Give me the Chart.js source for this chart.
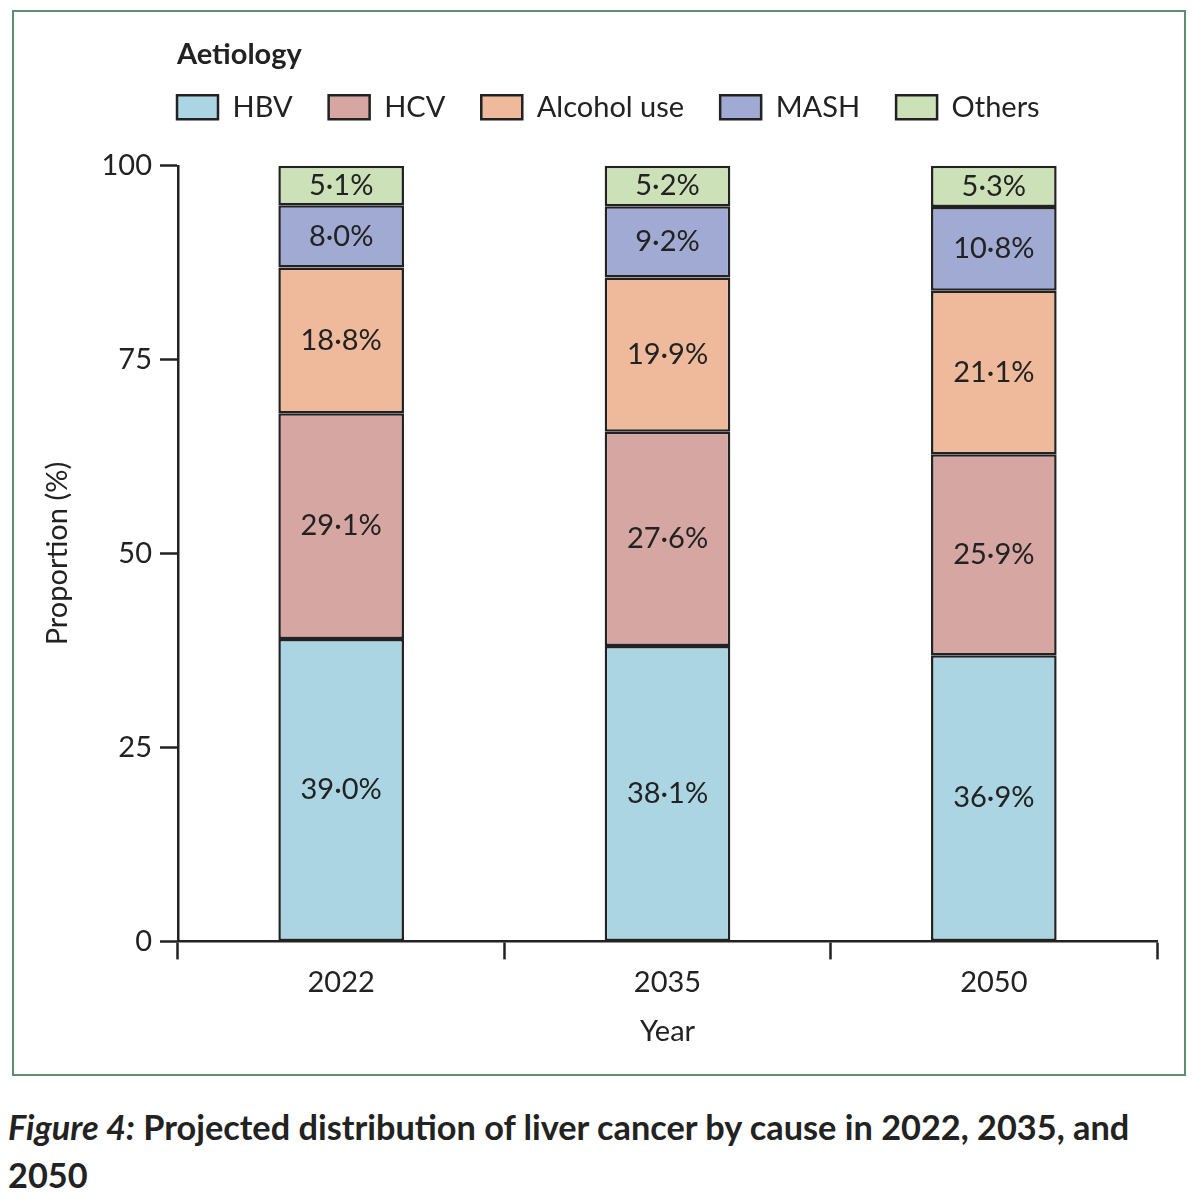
<!DOCTYPE html>
<html>
<head>
<meta charset="utf-8">
<script src="https://cdn.jsdelivr.net/npm/chart.js@4/dist/chart.umd.min.js"></script>
<style>
    body { margin: 0; background: #fff; font-family: Lato, sans-serif; color: #222; }
    #frame { position: absolute; left: 12px; top: 10px; width: 1170px; height: 1062px; border: 2px solid #5a8f6f; }
    #caption { position: absolute; left: 8px; top: 1103px; font-size: 34.3px; font-weight: bold; line-height: 48px; white-space: nowrap; color: #222; }
</style>
</head>
<body>
<div id="frame"><canvas id="liverGraph" width="1170" height="1062"></canvas></div>
<div id="caption"><i>Figure 4:</i> Projected distribution of liver cancer by cause in 2022, 2035, and<br>2050</div>
<script>
const years = ['2022', '2035', '2050'];
const causes = ['HBV', 'HCV', 'Alcohol use', 'MASH', 'Others'];
const hbv = [39.0, 38.1, 36.9];
const hcv = [29.1, 27.6, 25.9];
const alcohol = [18.8, 19.9, 21.1];
const mash = [8.0, 9.2, 10.8];
const others = [5.1, 5.2, 5.3];
const yTicks = [0, 25, 50, 75, 100];

const colours = ['#acd5e4', '#d5a6a2', '#efba9c', '#a0aad3', '#cde1b8'];
const ink = '#222';
const font = 'Lato, sans-serif';

// write 39.0 as 39·0%
function pct(v) {
    return v.toFixed(1).replace('.', '\u00b7') + '%';
}

// move title + legend so they start at the y axis and sit higher, like the figure
const alignTop = {
    id: 'alignTop',
    afterLayout(chart) {
        const lg = chart.legend;
        const dx = chart.chartArea.left - 1 - lg.left - lg.options.labels.padding;
        lg.left += dx;
        lg.right += dx;
        lg.top -= 34;
        lg.bottom -= 34;
        const tb = chart.titleBlock;
        const tx = chart.chartArea.left - 1 - tb.left;
        tb.left += tx;
        tb.right += tx;
        tb.top -= 11;
        tb.bottom -= 11;
    }
};

const segmentLabels = {
    id: 'segmentLabels',
    afterDatasetsDraw(chart) {
        const ctx = chart.ctx;
        ctx.save();
        ctx.font = '29px ' + font;
        ctx.fillStyle = ink;
        ctx.textAlign = 'center';
        ctx.textBaseline = 'middle';
        chart.data.datasets.forEach((ds, i) => {
            chart.getDatasetMeta(i).data.forEach((bar, j) => {
                ctx.fillText(pct(ds.data[j]), bar.x, (bar.y + bar.base) / 2);
            });
        });
        ctx.restore();
    }
};

document.addEventListener('DOMContentLoaded', function() {
    const ctx = document.getElementById('liverGraph').getContext('2d');
    const series = [hbv, hcv, alcohol, mash, others];
    new Chart(ctx, {
        type: 'bar',
        data: {
            labels: years,
            datasets: causes.map((name, i) => ({
                label: name,
                data: series[i],
                backgroundColor: colours[i],
                borderColor: ink,
                borderWidth: 2.5,
                borderSkipped: false,
                barPercentage: 0.77,
                categoryPercentage: 0.5
            }))
        },
        plugins: [alignTop, segmentLabels],
        options: {
            responsive: false,
            animation: false,
            layout: { padding: { left: 14, right: 27, top: 36, bottom: 21 } },
            plugins: {
                tooltip: { enabled: false },
                title: {
                    display: true,
                    text: 'Aetiology',
                    align: 'start',
                    color: ink,
                    font: { family: font, size: 29, weight: 'bold' },
                    padding: { top: 0, bottom: 8 }
                },
                legend: {
                    align: 'start',
                    labels: {
                        color: ink,
                        font: { family: font, size: 29 },
                        boxWidth: 41,
                        boxHeight: 24,
                        padding: 36
                    }
                }
            },
            scales: {
                x: {
                    stacked: true,
                    grid: { drawOnChartArea: false, tickLength: 18, tickColor: ink, tickWidth: 2.5 },
                    border: { color: ink, width: 2.5 },
                    ticks: { color: ink, font: { family: font, size: 29 }, padding: 6 },
                    title: { display: true, text: 'Year', color: ink, font: { family: font, size: 29 }, padding: { top: 8 } }
                },
                y: {
                    stacked: true,
                    min: 0,
                    max: 100,
                    afterBuildTicks: s => { s.ticks = yTicks.map(v => ({ value: v })); },
                    afterFit: s => { s.width = 150; },
                    grid: { drawOnChartArea: false, tickLength: 18, tickColor: ink, tickWidth: 2.5 },
                    border: { color: ink, width: 2.5 },
                    ticks: { color: ink, font: { family: font, size: 29 }, padding: 8 },
                    title: { display: true, text: 'Proportion (%)', color: ink, font: { family: font, size: 29 }, padding: { top: 12 } }
                }
            }
        }
    });
});
</script>
</body>
</html>
